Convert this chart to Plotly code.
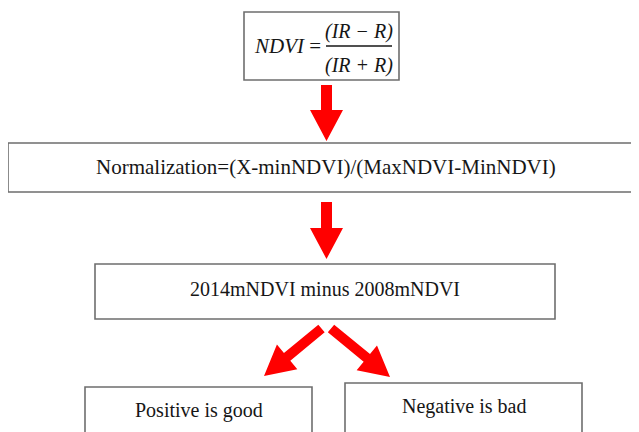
import math
import plotly.graph_objects as go

# ---- content (text of the flowchart) ----
formula_lhs = "NDVI ="
formula_num = "(IR − R)"
formula_den = "(IR + R)"
step_labels = [
    "Normalization=(X-minNDVI)/(MaxNDVI-MinNDVI)",
    "2014mNDVI minus 2008mNDVI",
    "Positive is good",
    "Negative is bad",
]

# ---- layout geometry (pixels, origin top-left) ----
W, H = 639, 432
PAGE_OFFSET = 8  # default body margin of the html page
formula_box = (244, 12, 399, 80)
step_boxes = [
    (8, 143, 635, 192),
    (95, 264, 555, 319),
    (85, 387, 312, 470),
    (345, 383, 582, 470),
]
label_x = [326, 325, 198.5, 463.5]
label_y = [167, 289, 410, 406]
label_size = [21, 20, 20, 20]
arrows = [  # tail (x, y), tip (x, y)
    ((326.5, 85), (326.5, 141)),
    ((326.5, 202), (326.5, 259)),
    ((321.5, 328.5), (264, 376)),
    ((331, 328.5), (390, 377)),
]

BORDER = "#6e6e6e"
RED = "#ff0000"
TEXT = "#161616"
FONT = "Liberation Serif, Times New Roman, serif"


def arrow_path(tail, tip, sw=11, hw=33, hl=31):
    (x0, y0), (x1, y1) = tail, tip
    L = math.hypot(x1 - x0, y1 - y0)
    dx, dy = (x1 - x0) / L, (y1 - y0) / L
    nx, ny = -dy, dx
    bx, by = x1 - dx * hl, y1 - dy * hl
    pts = [
        (x0 + nx * sw / 2, y0 + ny * sw / 2),
        (bx + nx * sw / 2, by + ny * sw / 2),
        (bx + nx * hw / 2, by + ny * hw / 2),
        (x1, y1),
        (bx - nx * hw / 2, by - ny * hw / 2),
        (bx - nx * sw / 2, by - ny * sw / 2),
        (x0 - nx * sw / 2, y0 - ny * sw / 2),
    ]
    return "M " + " L ".join(f"{x:.2f},{y:.2f}" for x, y in pts) + " Z"


shapes = []
for (x0, y0, x1, y1) in [formula_box] + step_boxes:
    shapes.append(dict(type="rect", xref="x", yref="y", x0=x0, y0=y0, x1=x1, y1=y1,
                       line=dict(color=BORDER, width=1.6), fillcolor="white", layer="below"))
# fraction bar
shapes.append(dict(type="line", xref="x", yref="y", x0=326, y0=46, x1=392, y1=46,
                   line=dict(color=TEXT, width=1.3)))
for i, (tail, tip) in enumerate(arrows):
    kw = {} if i < 2 else dict(sw=10, hw=32, hl=30)
    shapes.append(dict(type="path", xref="x", yref="y", path=arrow_path(tail, tip, **kw),
                       fillcolor=RED, line=dict(width=0)))

annotations = [
    dict(x=287, y=46, text="<i>NDVI</i> =", font=dict(size=21, family=FONT, color=TEXT)),
    dict(x=359, y=31, text=f"<i>{formula_num}</i>", font=dict(size=20, family=FONT, color=TEXT)),
    dict(x=359, y=65, text=f"<i>{formula_den}</i>", font=dict(size=20, family=FONT, color=TEXT)),
]
for lab, lx, ly, fs in zip(step_labels, label_x, label_y, label_size):
    annotations.append(dict(x=lx, y=ly, text=lab,
                            font=dict(size=fs, family=FONT, color=TEXT)))
for a in annotations:
    a.update(xref="x", yref="y", showarrow=False, xanchor="center", yanchor="middle")

fig = go.Figure()
fig.add_trace(go.Scatter(x=[0, W], y=[0, H], mode="markers", marker=dict(opacity=0),
                         hoverinfo="skip", showlegend=False))
fig.update_layout(
    width=W, height=H, margin=dict(l=0, r=0, t=0, b=0),
    paper_bgcolor="white", plot_bgcolor="white",
    xaxis=dict(range=[PAGE_OFFSET, W + PAGE_OFFSET], visible=False, fixedrange=True),
    yaxis=dict(range=[H + PAGE_OFFSET, PAGE_OFFSET], visible=False, fixedrange=True),
    shapes=shapes, annotations=annotations, showlegend=False,
)
fig.write_html("out.html")
